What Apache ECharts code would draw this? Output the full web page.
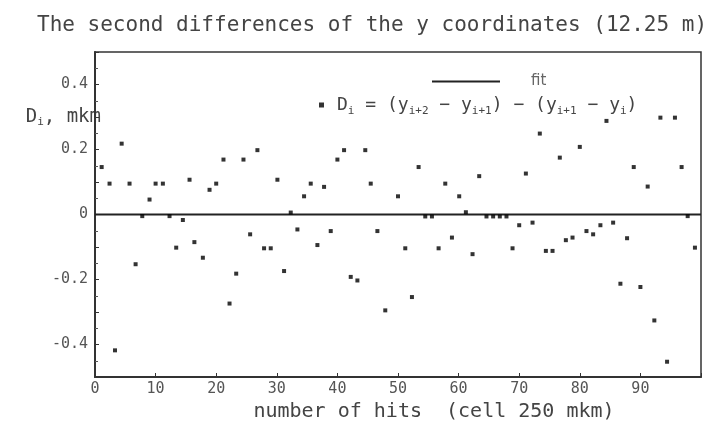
<!DOCTYPE html>
<html>
<head>
<meta charset="utf-8">
<script src="https://cdn.jsdelivr.net/npm/echarts@6/dist/echarts.min.js"></script>
<style>html,body{margin:0;padding:0;background:#fff}#c{width:717px;height:431px}</style>
</head>
<body>
<div id="c"></div>
<script>
// hit number (x) of each second difference
const hitIndex = [1.1, 2.4, 3.3, 4.4, 5.7, 6.7, 7.8, 9.0, 10.0, 11.2, 12.3, 13.4, 14.5, 15.6, 16.4,
  17.8, 18.9, 20.0, 21.2, 22.2, 23.3, 24.5, 25.6, 26.8, 27.9, 29.0, 30.1, 31.2, 32.3, 33.4,
  34.5, 35.6, 36.7, 37.8, 38.9, 40.0, 41.1, 42.2, 43.3, 44.6, 45.5, 46.6, 47.9, 50.0, 51.2,
  52.3, 53.4, 54.5, 55.6, 56.7, 57.8, 58.9, 60.1, 61.2, 62.3, 63.4, 64.6, 65.7, 66.8, 67.9,
  68.9, 70.0, 71.1, 72.2, 73.4, 74.4, 75.5, 76.7, 77.7, 78.8, 80.0, 81.1, 82.2, 83.4, 84.4,
  85.5, 86.7, 87.8, 88.9, 90.0, 91.2, 92.3, 93.3, 94.4, 95.7, 96.8, 97.8, 99.0];
// second differences D_i (mkm)
const diffValues = [0.146, 0.095, -0.418, 0.218, 0.095, -0.153, -0.005, 0.046, 0.095, 0.095, -0.005, -0.102, -0.017, 0.107, -0.085,
  -0.133, 0.076, 0.095, 0.169, -0.274, -0.182, 0.169, -0.061, 0.198, -0.104, -0.104, 0.107, -0.174, 0.006, -0.046,
  0.056, 0.095, -0.094, 0.085, -0.051, 0.169, 0.198, -0.192, -0.203, 0.198, 0.095, -0.051, -0.295, 0.056, -0.104,
  -0.254, 0.146, -0.006, -0.006, -0.104, 0.095, -0.071, 0.056, 0.007, -0.122, 0.118, -0.006, -0.006, -0.006, -0.006,
  -0.104, -0.033, 0.126, -0.025, 0.249, -0.112, -0.112, 0.175, -0.079, -0.071, 0.208, -0.051, -0.061, -0.033, 0.288,
  -0.025, -0.213, -0.073, 0.146, -0.223, 0.086, -0.326, 0.298, -0.453, 0.298, 0.146, -0.005, -0.102];
// fit line
const fitX = [0, 100];
const fitY = [0, 0];
// tick labels
const yTickLabels = [-0.4, -0.2, 0, 0.2, 0.4];
const xTickLabels = [0, 10, 20, 30, 40, 50, 60, 70, 80, 90];

const FONT = 'DejaVu Sans Mono';
const TXT = '#444';

const chart = echarts.init(document.getElementById('c'), null, {renderer: 'canvas'});
chart.setOption({
  backgroundColor: '#fff',
  animation: false,
  title: {
    text: 'The second differences of the y coordinates (12.25 m)',
    left: 32, top: 10,
    textStyle: {fontFamily: FONT, fontSize: 21, fontWeight: 'normal', color: TXT}
  },
  legend: [
    {
      data: ['fit'], left: 427, top: 69, itemWidth: 68, itemHeight: 2, icon: 'rect',
      textStyle: {fontFamily: 'DejaVu Sans', fontSize: 15, color: '#666', padding: [0, 0, 0, 26]}
    },
    {
      data: ['D'], left: 314, top: 91, itemWidth: 5, itemHeight: 5, icon: 'rect',
      formatter: () => '{n|D}{s|i}{n| = (y}{s|i+2}{n| − y}{s|i+1}{n|) − (y}{s|i+1}{n| − y}{s|i}{n|)}',
      textStyle: {
        fontFamily: FONT, color: TXT, padding: [0, 0, 0, 8],
        rich: {
          n: {fontFamily: FONT, fontSize: 18, color: TXT, lineHeight: 24},
          s: {fontFamily: FONT, fontSize: 11, color: TXT, lineHeight: 24, verticalAlign: 'bottom'}
        }
      }
    }
  ],
  grid: {left: 95, right: 16, top: 52, bottom: 54, show: true, borderColor: '#333', borderWidth: 1.5, backgroundColor: 'transparent'},
  xAxis: {
    type: 'value', min: 0, max: 100, interval: 10,
    name: 'number of hits  (cell 250 mkm)', nameLocation: 'middle', nameGap: 23,
    nameTextStyle: {fontFamily: FONT, fontSize: 20, color: TXT, padding: [0, 0, 0, 72]},
    axisLine: {show: true, onZero: false, lineStyle: {color: '#333', width: 2}},
    axisTick: {show: true, inside: true, length: 4, lineStyle: {color: '#333'}},
    splitLine: {show: false},
    axisLabel: {
      fontFamily: FONT, fontSize: 15, color: '#555', margin: 5,
      formatter: v => xTickLabels.indexOf(Math.round(v)) >= 0 ? String(Math.round(v)) : ''
    }
  },
  yAxis: {
    type: 'value', min: -0.5, max: 0.5, interval: 0.1,
    name: '{n|D}{s|i}{n|, mkm}', nameLocation: 'end', nameGap: -65,
    nameTextStyle: {
      align: 'right', verticalAlign: 'middle', padding: [0, -6, 0, 0],
      rich: {
        n: {fontFamily: FONT, fontSize: 19, color: TXT, lineHeight: 22},
        s: {fontFamily: FONT, fontSize: 11, color: TXT, lineHeight: 22, verticalAlign: 'bottom'}
      }
    },
    axisLine: {show: true, onZero: false, lineStyle: {color: '#333', width: 2}},
    axisTick: {show: true, inside: true, length: 4, lineStyle: {color: '#333'}},
    minorTick: {show: true, splitNumber: 2, length: 3, lineStyle: {color: '#555'}},
    splitLine: {show: false},
    axisLabel: {
      fontFamily: FONT, fontSize: 15, color: '#555', margin: 7,
      formatter: v => {
        const r = Math.round(v * 10) / 10;
        return yTickLabels.some(t => Math.abs(t - r) < 1e-9) ? (r === 0 ? '0' : r.toFixed(1)) : '';
      }
    }
  },
  series: [
    {
      name: 'fit', type: 'line', data: fitX.map((x, i) => [x, fitY[i]]),
      symbol: 'none', lineStyle: {color: '#222', width: 2}, itemStyle: {color: '#222'}, z: 2
    },
    {
      name: 'D', type: 'scatter', data: hitIndex.map((x, i) => [x, diffValues[i]]),
      symbol: 'rect', symbolSize: 4, itemStyle: {color: '#000'}, z: 3
    }
  ]
});
</script>
</body>
</html>
